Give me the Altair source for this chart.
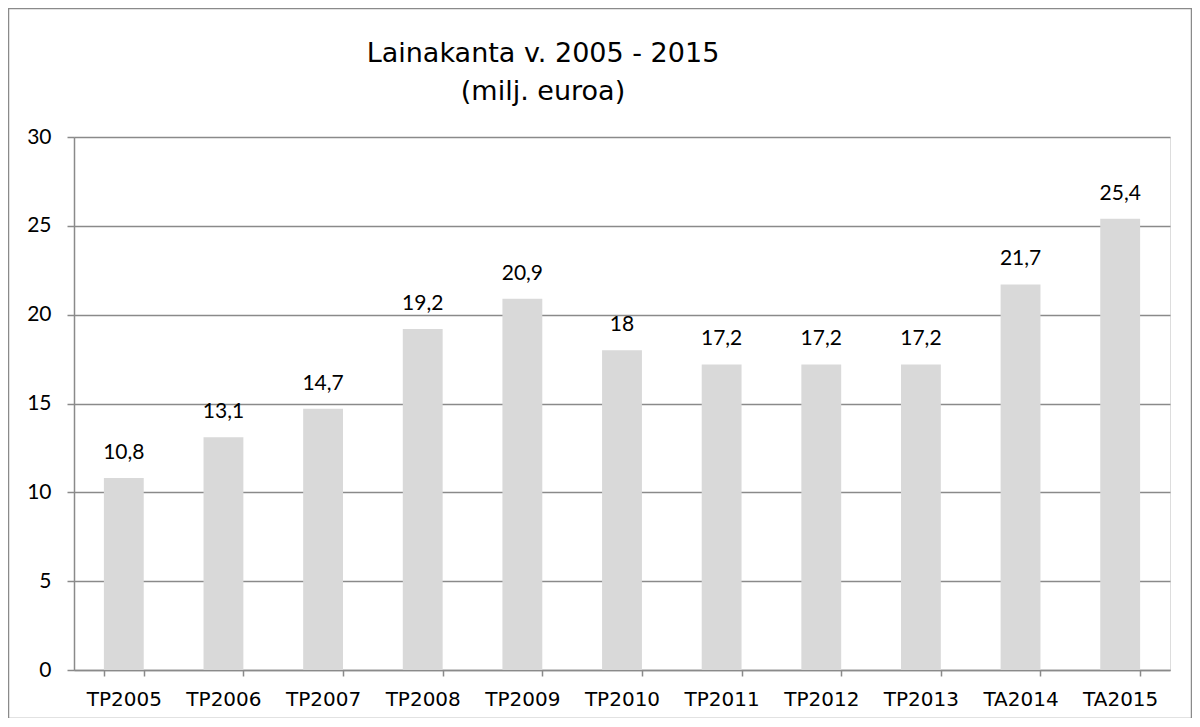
import altair as alt
import pandas as pd

categories = ["TP2005", "TP2006", "TP2007", "TP2008", "TP2009", "TP2010",
              "TP2011", "TP2012", "TP2013", "TA2014", "TA2015"]
values = [10.8, 13.1, 14.7, 19.2, 20.9, 18, 17.2, 17.2, 17.2, 21.7, 25.4]
y_ticks = [0, 5, 10, 15, 20, 25, 30]
title_lines = ["Lainakanta v. 2005 - 2015", "(milj. euroa)"]

df = pd.DataFrame({"cat": categories, "val": values})
df["label"] = [f"{v:g}".replace(".", ",") for v in values]

W, H = 1096, 533
GRAY = "#8a8a8a"

x = alt.X(
    "cat:N", sort=categories, title=None,
    scale=alt.Scale(paddingInner=0.6, paddingOuter=0.3),
    axis=alt.Axis(labelAngle=0, labelFont="DejaVu Sans", labelFontSize=20,
                  labelColor="black", labelPadding=13, tickBand="extent",
                  tickSize=6, tickColor=GRAY, tickWidth=1.5, domainColor=GRAY,
                  domainWidth=1.5, grid=False),
)
y = alt.Y(
    "val:Q", title=None,
    scale=alt.Scale(domain=[0, 30], nice=False),
    axis=alt.Axis(values=y_ticks, labelFont="Lato", labelFontSize=21,
                  labelColor="black", labelPadding=16, tickSize=7,
                  tickColor=GRAY, tickWidth=1.5, domainColor=GRAY,
                  domainWidth=1.5, gridColor=GRAY, gridWidth=1.5),
)

base = alt.Chart(df)
bars = base.mark_bar(color="#d9d9d9").encode(x=x, y=y)
labels = base.mark_text(baseline="alphabetic", dy=-19, font="Lato",
                        fontSize=21, color="black").encode(
    x=alt.X("cat:N", sort=categories), y="val:Q", text="label:N")

border = alt.Chart(pd.DataFrame({"a": [0]})).mark_rect(
    fill=None, stroke=GRAY, strokeWidth=1.5
).encode(x=alt.value(-65.5), x2=alt.value(1117.5),
         y=alt.value(-128.5), y2=alt.value(581.5))

chart = alt.layer(bars, labels, border).properties(
    width=W, height=H,
    title=alt.TitleParams(title_lines, font="DejaVu Sans", fontSize=27,
                          fontWeight="normal", color="black", lineHeight=38,
                          anchor="middle", baseline="alphabetic", dx=-79,
                          offset=-119),
    autosize=alt.AutoSizeParams(type="none"),
    padding={"left": 66, "top": 129, "right": 22, "bottom": 48},
).configure_view(stroke=None).configure(background="white")

chart.save("out.html", embed_options={"renderer": "svg", "actions": False})
